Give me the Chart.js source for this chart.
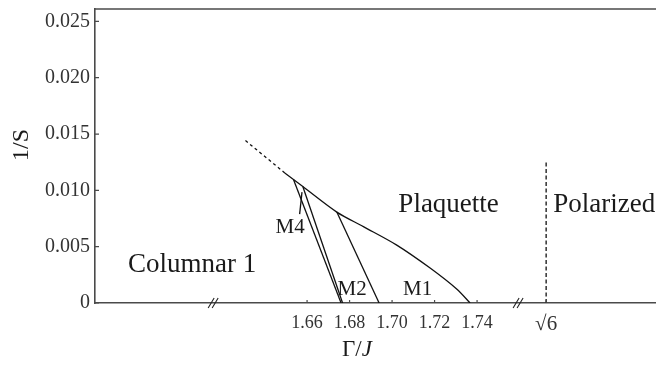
<!DOCTYPE html>
<html>
<head>
<meta charset="utf-8">
<script src="https://cdn.jsdelivr.net/npm/chart.js@4.4.1/dist/chart.umd.min.js"></script>
<style>
  html, body { margin: 0; padding: 0; background: #fff; }
  #wrap { width: 656px; height: 366px; }
</style>
</head>
<body>
<div id="wrap"><canvas id="chart"></canvas></div>
<script>
const SQRT6 = Math.sqrt(6);

// phase boundaries, Gamma/J vs 1/S
const extX = [1.6310, 1.6495];
const extY = [0.01442, 0.01155];
const plaqX = [1.6495, 1.6536, 1.6580, 1.6740, 1.6865, 1.7022, 1.7179, 1.7304, 1.7367];
const plaqY = [0.01155, 0.01097, 0.01034, 0.00807, 0.00678, 0.00514, 0.00310, 0.00124, 0];
const m4aX = [1.6536, 1.6760];
const m4aY = [0.01097, 0];
const m4bX = [1.6580, 1.6767];
const m4bY = [0.01034, 0];
const m2X = [1.6740, 1.6939];
const m2Y = [0.00807, 0];
const leaderX = [1.6565, 1.6576];
const leaderY = [0.00789, 0.00984];
const polX = [SQRT6, SQRT6];
const polY = [0, 0.01253];

const xTicks = [1.66, 1.68, 1.70, 1.72, 1.74, SQRT6];
const yTicks = [0, 0.005, 0.010, 0.015, 0.020, 0.025];

const regionNames = ["Columnar 1", "Plaquette", "Polarized", "M4", "M2", "M1"];
const regionX = [1.6059, 1.7266, 2.4768, 1.6520, 1.6812, 1.7120];
const regionY = [0.00275, 0.00807, 0.00807, 0.00621, 0.00071, 0.00071];
const regionBig = [true, true, true, false, false, false];

// axis is broken twice; past the right break sqrt(6) sits just after 1.77
const breakAt = [1.6158, 1.7593];
function axisPos(v) { return v > 2 ? 1.7725 + (v - SQRT6) : v; }

const FONT = "'Liberation Serif', 'DejaVu Serif', serif";
const INK = "#111";
const AXIS = "#4a4a4a";

function pts(xs, ys) { return xs.map((x, i) => ({ x: axisPos(x), y: ys[i] })); }
function line(xs, ys, dash, tension) {
  return {
    data: pts(xs, ys), showLine: true, pointRadius: 0, borderColor: INK,
    borderWidth: 1.3, borderDash: dash || [], tension: tension || 0, fill: false,
  };
}

const decor = {
  id: "decor",
  afterDraw(chart) {
    const { ctx, chartArea: a, scales: { x, y } } = chart;
    ctx.save();
    ctx.strokeStyle = AXIS;
    ctx.lineWidth = 1.6;
    ctx.beginPath();
    ctx.moveTo(a.left - 0.8, a.top);
    ctx.lineTo(a.right, a.top);
    ctx.stroke();

    // inward tick marks
    ctx.lineWidth = 1.2;
    ctx.beginPath();
    yTicks.forEach(v => {
      const py = y.getPixelForValue(v);
      ctx.moveTo(a.left, py); ctx.lineTo(a.left + 4, py);
    });
    xTicks.forEach(v => {
      const px = x.getPixelForValue(axisPos(v));
      ctx.moveTo(px, a.bottom); ctx.lineTo(px, a.bottom - 3);
    });
    ctx.stroke();

    // axis break marks
    ctx.strokeStyle = "#222";
    ctx.lineWidth = 1.1;
    ctx.beginPath();
    breakAt.forEach(v => {
      const px = x.getPixelForValue(v);
      [-2, 2].forEach(o => {
        ctx.moveTo(px + o - 3, a.bottom + 5);
        ctx.lineTo(px + o + 3, a.bottom - 5);
      });
    });
    ctx.stroke();

    // region labels
    ctx.fillStyle = "#1a1a1a";
    ctx.textAlign = "center";
    ctx.textBaseline = "alphabetic";
    regionNames.forEach((t, i) => {
      ctx.font = (regionBig[i] ? "27px " : "21px ") + FONT;
      ctx.fillText(t, x.getPixelForValue(axisPos(regionX[i])), y.getPixelForValue(regionY[i]));
    });

    // axis titles
    ctx.font = "24px " + FONT;
    ctx.textBaseline = "middle";
    ctx.save();
    ctx.translate(22, 145);
    ctx.rotate(-Math.PI / 2);
    ctx.fillText("1/S", 0, 0);
    ctx.restore();

    ctx.textAlign = "left";
    const a1 = "\u0393/";
    ctx.font = "23px " + FONT;
    const w1 = ctx.measureText(a1).width;
    ctx.font = "italic 23px " + FONT;
    const w2 = ctx.measureText("J").width;
    const sx = 357 - (w1 + w2) / 2;
    ctx.font = "23px " + FONT;
    ctx.fillText(a1, sx, 350);
    ctx.font = "italic 23px " + FONT;
    ctx.fillText("J", sx + w1, 350);
    ctx.restore();
  },
};

new Chart(document.getElementById("chart"), {
  type: "scatter",
  data: {
    datasets: [
      line(extX, extY, [3, 3]),
      line(plaqX, plaqY, null, 0.3),
      line(m4aX, m4aY),
      line(m4bX, m4bY),
      line(m2X, m2Y),
      line(leaderX, leaderY),
      line(polX, polY, [4, 2.5]),
    ],
  },
  options: {
    responsive: true,
    maintainAspectRatio: false,
    animation: false,
    layout: { padding: { top: 9, right: 0, left: 0, bottom: 0 } },
    plugins: { legend: { display: false }, tooltip: { enabled: false } },
    scales: {
      x: {
        type: "linear",
        min: 1.5602,
        max: 1.8242,
        afterBuildTicks: s => { s.ticks = xTicks.map(v => ({ value: axisPos(v) })); },
        afterFit: s => { s.height = 63; s.paddingLeft = 0; s.paddingRight = 0; },
        ticks: {
          padding: 9,
          color: "#333",
          font: c => ({ family: FONT, size: c.tick && c.tick.value > 1.76 ? 21 : 18 }),
          callback: v => (v > 1.76 ? "\u221A6" : v.toFixed(2)),
        },
        grid: { drawOnChartArea: false, drawTicks: false },
        border: { display: true, color: AXIS, width: 1.6 },
      },
      y: {
        min: 0,
        max: 0.0261,
        afterBuildTicks: s => { s.ticks = yTicks.map(v => ({ value: v })); },
        afterFit: s => { s.width = 95; s.paddingTop = 0; s.paddingBottom = 0; },
        ticks: {
          padding: 5,
          color: "#333",
          font: { family: FONT, size: 20 },
          callback: v => (v === 0 ? "0" : v.toFixed(3)),
        },
        grid: { drawOnChartArea: false, drawTicks: false },
        border: { display: true, color: AXIS, width: 1.6 },
      },
    },
  },
  plugins: [decor],
});
</script>
</body>
</html>
